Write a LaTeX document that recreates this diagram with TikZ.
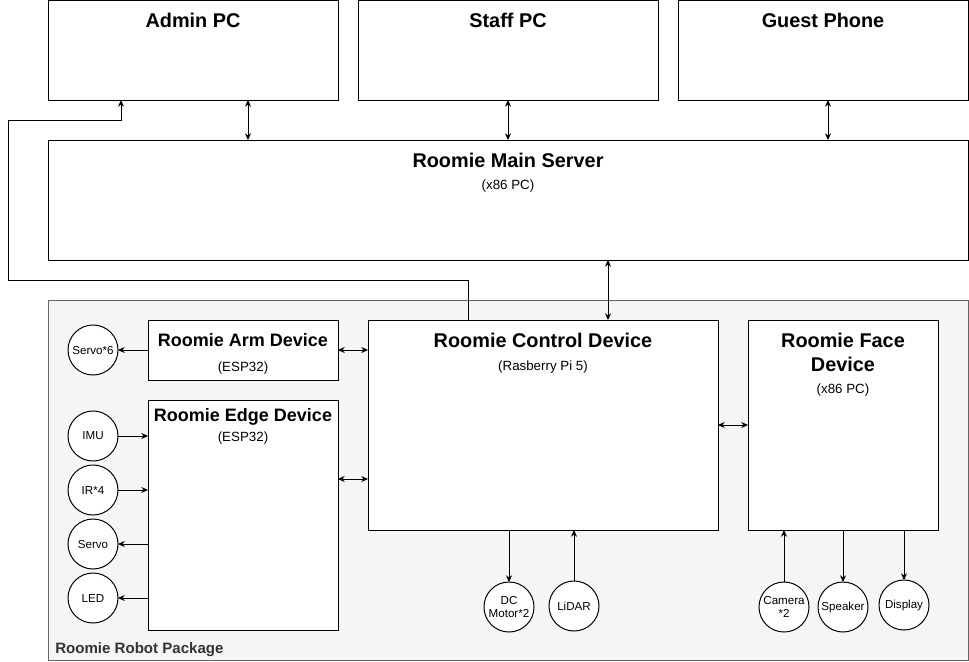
\documentclass[tikz,border=0pt]{standalone}
\usepackage{fontspec}
\setmainfont{Liberation Sans}
\usetikzlibrary{arrows.meta,positioning}
\definecolor{pkgfill}{HTML}{F5F5F5}
\definecolor{pkgline}{HTML}{666666}
\definecolor{pkgtext}{HTML}{333333}
\tikzset{
  unitbox/.style 2 args={draw,fill=white,line width=0.75pt,inner sep=0pt,outer sep=0pt,
    anchor=north west,minimum width=#1*0.75pt,minimum height=#2*0.75pt},
  part/.style={draw,fill=white,circle,line width=0.75pt,inner sep=0pt,outer sep=0pt,
    minimum size=37.5pt,align=center,font=\fontsize{8.7}{10}\selectfont},
  title/.style={font=\fontsize{14.9}{18}\selectfont\bfseries,align=center,inner sep=0pt},
  smalltitle/.style={title,font=\fontsize{13.5}{16}\selectfont\bfseries},
  subtitle/.style={font=\fontsize{10}{12}\selectfont,inner sep=0pt},
  link/.style={line width=0.75pt,-{Stealth[length=5pt,width=4.5pt]}},
  biarrow/.style={line width=0.75pt,{Stealth[length=5pt,width=4.5pt]}-{Stealth[length=5pt,width=4.5pt]}}
}
\begin{document}
\begin{tikzpicture}[x=0.75pt,y=-0.75pt]
  \useasboundingbox (0,0) rectangle (969,661);

  % clients
  \node[unitbox={290}{100}] (admin) at (48,0) {};
  \node[unitbox={300}{100}] (staff) at (358,0) {};
  \node[unitbox={290}{100}] (guest) at (678,0) {};
  \node[title] at (193,20) {Admin PC};
  \node[title] at (508,20) {Staff PC};
  \node[title] at (823,20) {Guest Phone};

  % server
  \node[unitbox={920}{120}] (server) at (48,140) {};
  \node[title] at (508,160) {Roomie Main Server};
  \node[subtitle] at (508,186) {(x86 PC)};

  % robot package
  \node[draw=pkgline,fill=pkgfill,line width=0.75pt,inner sep=0pt,anchor=north west,
    minimum width=690pt,minimum height=270pt] (pkg) at (48,300) {};
  \node[anchor=west,inner sep=0pt,text=pkgtext,font=\fontsize{11.3}{13}\selectfont\bfseries]
    (pkglabel) at (55,650) {Roomie Robot Package};

  \node[unitbox={190}{60}] (arm) at (148,320) {};
  \node[smalltitle] at (243,340) {Roomie Arm Device};
  \node[subtitle] at (243,368) {(ESP32)};

  \node[unitbox={190}{230}] (edge) at (148,400) {};
  \node[smalltitle] at (243,417) {Roomie Edge Device};
  \node[subtitle] at (243,438) {(ESP32)};

  \node[unitbox={350}{210}] (ctrl) at (368,320) {};
  \node[title] at (543,340) {Roomie Control Device};
  \node[subtitle] at (543,367) {(Rasberry Pi 5)};

  \node[unitbox={190}{210}] (face) at (748,320) {};
  \node[title] at (843,352) {Roomie Face\\Device};
  \node[subtitle] at (843,390) {(x86 PC)};

  % parts
  \node[part] (servo6) at (93,350) {Servo*6};
  \node[part] (imu) at (93,436) {IMU};
  \node[part] (ir) at (93,490) {IR*4};
  \node[part] (servo) at (93,544) {Servo};
  \node[part] (led) at (93,598) {LED};
  \node[part] (motor) at (509,607) {DC\\Motor*2};
  \node[part] (lidar) at (574,606) {LiDAR};
  \node[part] (camera) at (784,607) {Camera\\*2};
  \node[part] (speaker) at (843,607) {Speaker};
  \node[part] (display) at (904,605) {Display};

  % links to server
  \draw[biarrow] ([xshift=41.25pt]admin.south) coordinate (s1) -- (s1 |- server.north);
  \draw[biarrow] (staff.south) -- (staff.south |- server.north);
  \draw[biarrow] ([xshift=3.75pt]guest.south) coordinate (s3) -- (s3 |- server.north);
  \draw[biarrow] ([xshift=48.75pt]ctrl.north) coordinate (s4) -- (s4 |- server.south);
  \draw[link] ([xshift=-56.25pt]ctrl.north) -- ++(0,-40) -| (8,120) -| ([xshift=-54pt]admin.south);

  % links inside the robot
  \draw[biarrow] (arm.east) -- (arm.east -| ctrl.west);
  \draw[biarrow] ([yshift=27pt]edge.east) coordinate (e1) -- (e1 -| ctrl.west);
  \draw[biarrow] (ctrl.east) -- (ctrl.east -| face.west);

  \draw[link] (arm.west) -- (servo6.east);
  \draw[link] (imu.east) -- (imu.east -| edge.west);
  \draw[link] (ir.east) -- (ir.east -| edge.west);
  \draw[link] (servo.east -| edge.west) -- (servo.east);
  \draw[link] (led.east -| edge.west) -- (led.east);

  \draw[link] (motor.north |- ctrl.south) -- (motor.north);
  \draw[link] (lidar.north) -- (lidar.north |- ctrl.south);
  \draw[link] (camera.north) -- (camera.north |- face.south);
  \draw[link] (speaker.north |- face.south) -- (speaker.north);
  \draw[link] (display.north |- face.south) -- (display.north);
\end{tikzpicture}
\end{document}
